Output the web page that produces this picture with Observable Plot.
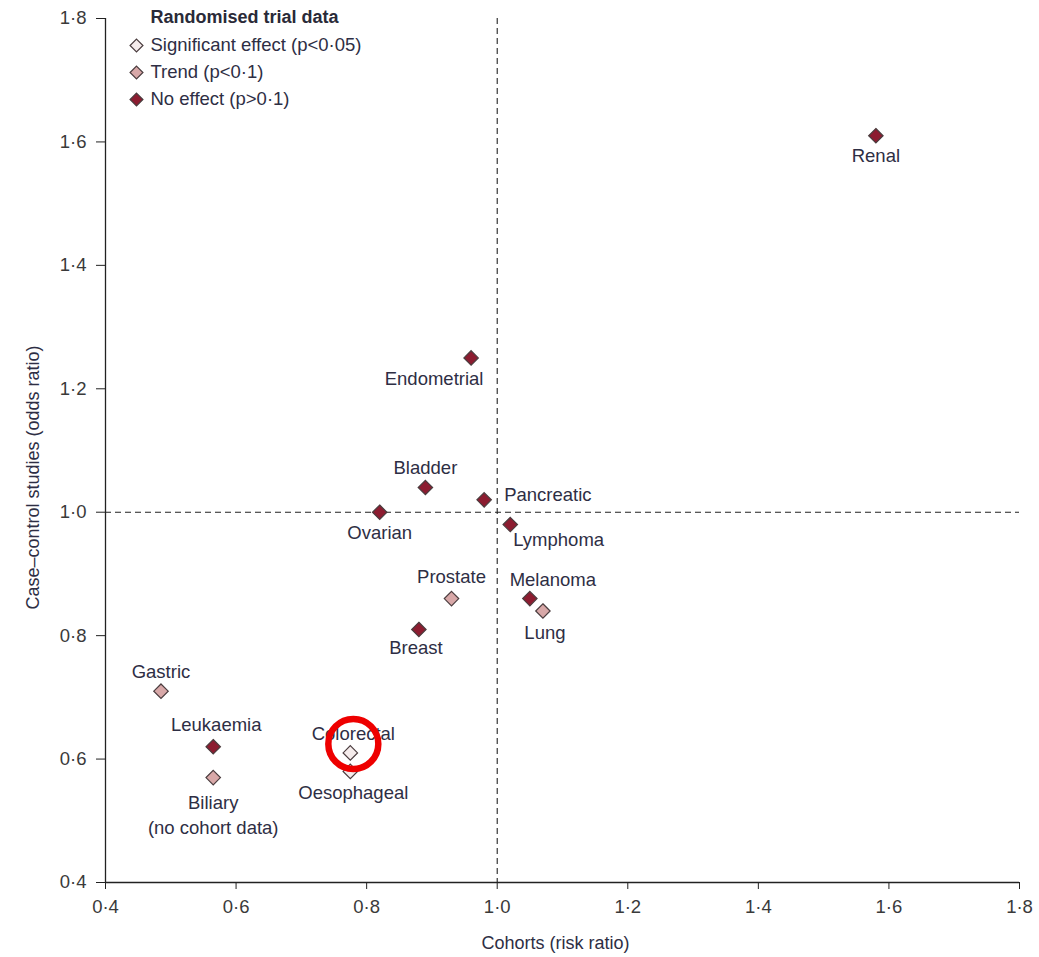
<!DOCTYPE html>
<html>
<head>
<meta charset="utf-8">
<script src="https://cdn.jsdelivr.net/npm/d3@7"></script>
<script src="https://cdn.jsdelivr.net/npm/@observablehq/plot@0.6"></script>
<style>
  html, body { margin: 0; padding: 0; background: #fff; }
</style>
</head>
<body>
<div id="chart"></div>
<script>
// ---- data ----
const cancers = ["Renal","Endometrial","Bladder","Pancreatic","Ovarian","Lymphoma","Prostate","Melanoma","Lung","Breast","Gastric","Leukaemia","Biliary","Oesophageal","Colorectal"];
const cohortRR = [1.58, 0.96, 0.89, 0.98, 0.82, 1.02, 0.93, 1.05, 1.07, 0.88, 0.485, 0.565, 0.565, 0.775, 0.775];
const caseControlOR = [1.61, 1.25, 1.04, 1.02, 1.00, 0.98, 0.86, 0.86, 0.84, 0.81, 0.71, 0.62, 0.57, 0.58, 0.61];
const trialResult = ["none","none","none","none","none","none","trend","none","trend","none","trend","none","trend","sig","sig"];
const displayLabels = ["Renal","Endometrial","Bladder","Pancreatic","Ovarian","Lymphoma","Prostate","Melanoma","Lung","Breast","Gastric","Leukaemia","Biliary\n(no cohort data)","Oesophageal","Colorectal"];
const highlighted = "Colorectal";

const resultKeys = ["sig","trend","none"];
const resultNames = ["Significant effect (p<0·05)","Trend (p<0·1)","No effect (p>0·1)"];
const legendTitle = "Randomised trial data";

const tickValues = [0.4,0.6,0.8,1.0,1.2,1.4,1.6,1.8];
const tickLabels = ["0·4","0·6","0·8","1·0","1·2","1·4","1·6","1·8"];
const xTitle = "Cohorts (risk ratio)";
const yTitle = "Case–control studies (odds ratio)";

// ---- styles ----
const fills = ["#f5ecec","#d8a8a8","#8c1c30"];
const strokeCol = "#4a3c3e";
const textCol = "#2e2e44";
const FONT = "'Liberation Sans', Arial, sans-serif";

// label placements (layout only): [dx, dy, textAnchor]
const place = {
  "Renal":[0,18.5,"middle"], "Endometrial":[-37,19.5,"middle"], "Bladder":[0,-21.5,"middle"],
  "Pancreatic":[20,-7,"start"], "Ovarian":[0,18.5,"middle"], "Lymphoma":[3,13.5,"start"],
  "Prostate":[0,-23.5,"middle"], "Melanoma":[23,-20.5,"middle"], "Lung":[2,20.5,"middle"],
  "Breast":[-3,16.5,"middle"], "Gastric":[0,-21.5,"middle"], "Leukaemia":[3,-23.5,"middle"],
  "Biliary":[0,35.5,"middle"], "Oesophageal":[3,19.5,"middle"], "Colorectal":[3,-21,"middle"]
};

const data = cancers.map((c,i)=>({name:c, x:cohortRR[i], y:caseControlOR[i], result:trialResult[i], label:displayLabels[i]}));
const fmt = d => tickLabels[tickValues.findIndex(v => Math.abs(v-d)<1e-9)];

const labelMarks = data.map(d => {
  const [dx,dy,anchor] = place[d.name];
  return Plot.text([d], {x:"x", y:"y", text:"label", dx, dy, textAnchor:anchor, fill:textCol, fontSize:18.5, lineHeight:1.35});
});

const legendMarks = [
  Plot.text([legendTitle], {frameAnchor:"top-left", dx:45, dy:-1, textAnchor:"start", lineAnchor:"middle", fontWeight:"bold", fontSize:18, fill:"#2a2a38"})
];
resultKeys.forEach((k,i)=>{
  legendMarks.push(Plot.dot([k], {frameAnchor:"top-left", dx:31, dy:27+27*i, symbol:"diamond2", r:5.8, fill:fills[i], stroke:strokeCol, strokeWidth:1.2}));
  legendMarks.push(Plot.text([resultNames[i]], {frameAnchor:"top-left", dx:45, dy:27+27*i, textAnchor:"start", lineAnchor:"middle", fontSize:18.5, fill:textCol}));
});

const chart = Plot.plot({
  width: 1039,
  height: 957,
  marginLeft: 105,
  marginRight: 20,
  marginTop: 18,
  marginBottom: 75,
  style: {fontFamily: FONT, fontSize: "18px", color: "#444", background: "#fff"},
  x: {domain:[0.4,1.8], ticks: tickValues, tickFormat: fmt, label: null, tickSize: 7, tickPadding: 10},
  y: {domain:[0.4,1.8], ticks: tickValues, tickFormat: fmt, label: null, tickSize: 9, tickPadding: 10},
  color: {domain: resultKeys, range: fills},
  marks: [
    Plot.ruleX([1.0], {stroke:"#222", strokeDasharray:"6,4", strokeWidth:1.1}),
    Plot.ruleY([1.0], {stroke:"#222", strokeDasharray:"6,4", strokeWidth:1.1}),
    Plot.ruleX([0.4], {stroke:"#222", strokeWidth:1.3}),
    Plot.ruleY([0.4], {stroke:"#222", strokeWidth:1.3}),
    Plot.axisX({ticks: tickValues, tickFormat: fmt, tickSize: 7, tickPadding: 10, fontSize: 18.5, stroke:"#222", fill:"#3a3a3a", label:null}),
    Plot.axisY({ticks: tickValues, tickFormat: fmt, tickSize: 9, tickPadding: 10, fontSize: 18.5, stroke:"#222", fill:"#3a3a3a", label:null}),
    Plot.dot(data, {x:"x", y:"y", symbol:"diamond2", r:6.5, fill:"result", stroke:strokeCol, strokeWidth:1.2}),
    ...labelMarks,
    Plot.dot(data.filter(d=>d.name===highlighted), {x:"x", y:"y", dx:3, dy:-9, r:25, fill:"none", stroke:"#ee0000", strokeWidth:6.5}),
    ...legendMarks,
    Plot.text([xTitle], {frameAnchor:"bottom", dx:-7, dy:61, lineAnchor:"middle", textAnchor:"middle", fontSize:18, fill:textCol}),
    Plot.text([yTitle], {frameAnchor:"left", dx:-72, dy:27, rotate:-90, textAnchor:"middle", lineAnchor:"middle", fontSize:18, fill:textCol})
  ]
});
document.getElementById("chart").appendChild(chart);
</script>
</body>
</html>
